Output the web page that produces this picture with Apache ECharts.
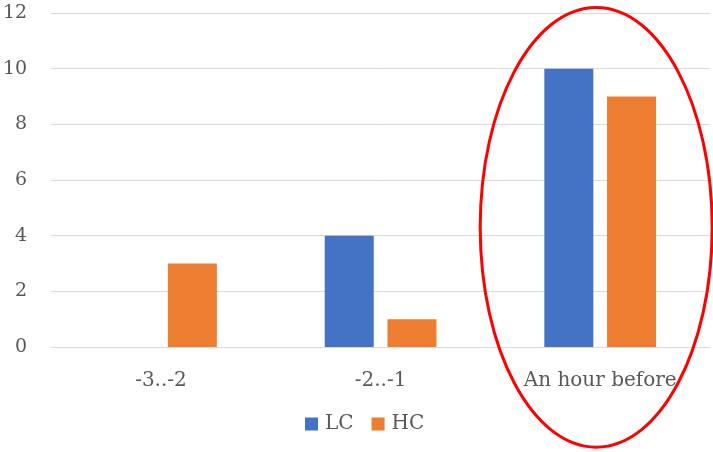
<!DOCTYPE html>
<html>
<head>
<meta charset="utf-8">
<script src="https://cdn.jsdelivr.net/npm/echarts@6/dist/echarts.min.js"></script>
<style>
  html, body { margin: 0; padding: 0; background: #fff; }
  #chart { width: 713px; height: 452px; }
</style>
</head>
<body>
<div id="chart"></div>
<script>
// Categories and series values
const categories = ['-3..-2', '-2..-1', 'An hour before'];
const lcValues = [0, 4, 10];
const hcValues = [3, 1, 9];
const yTicks = { min: 0, max: 12, interval: 2 };

const FONT = '"DejaVu Serif", "Liberation Serif", serif';
const chart = echarts.init(document.getElementById('chart'), null, { renderer: 'canvas' });

const option = {
  animation: false,
  backgroundColor: '#ffffff',
  grid: { left: 50, right: 3, top: 13, bottom: 105 },
  legend: {
    bottom: 13,
    left: 300,
    itemWidth: 13,
    itemHeight: 13,
    itemGap: 18,
    icon: 'rect',
    textStyle: { fontFamily: FONT, fontSize: 20, color: '#595959', padding: [0, 0, 0, 2] },
    data: ['LC', 'HC']
  },
  xAxis: {
    type: 'category',
    data: categories,
    axisLine: { show: true, lineStyle: { color: '#d9d9d9', width: 1 } },
    axisTick: { show: false },
    axisLabel: { margin: 24, fontFamily: FONT, fontSize: 20, color: '#595959' }
  },
  yAxis: {
    type: 'value',
    min: yTicks.min,
    max: yTicks.max,
    interval: yTicks.interval,
    axisLine: { show: false },
    axisTick: { show: false },
    splitLine: { lineStyle: { color: '#d9d9d9', width: 1 } },
    axisLabel: { margin: 24, fontFamily: FONT, fontSize: 19, color: '#595959' }
  },
  series: [
    {
      name: 'LC', type: 'bar', data: lcValues,
      barWidth: 49, barGap: '28%',
      itemStyle: { color: '#4472C4' }
    },
    {
      name: 'HC', type: 'bar', data: hcValues,
      barWidth: 49, barGap: '28%',
      itemStyle: { color: '#ED7D31' }
    }
  ]
};
chart.setOption(option);

// Red ellipse highlighting the last category, placed from the axis scales
const ellCenter = chart.convertToPixel({ gridIndex: 0 }, [categories.length - 1, 4.3]);
const ellTop = chart.convertToPixel({ gridIndex: 0 }, [categories.length - 1, 12.2]);
const ellRy = ellCenter[1] - ellTop[1];
chart.setOption({
  graphic: [{
    type: 'ellipse',
    shape: { cx: ellCenter[0] - 4, cy: ellCenter[1], rx: 116, ry: ellRy },
    style: { fill: 'none', stroke: '#ff0000', lineWidth: 3 },
    z: 100
  }]
});
</script>
</body>
</html>
